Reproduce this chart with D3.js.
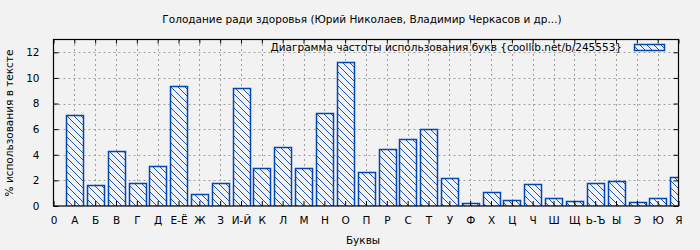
<!DOCTYPE html>
<html>
<head>
<meta charset="utf-8">
<script src="https://cdn.jsdelivr.net/npm/d3@7"></script>
<style>
  body { margin: 0; background: #f2f2f2; }
  text { font-family: "DejaVu Sans", sans-serif; font-size: 10.5px; fill: #000; }
</style>
</head>
<body>
<div id="chart"></div>
<script>
// Letter frequency data (percent of text)
const letters = ["0", "А", "Б", "В", "Г", "Д", "Е-Ё", "Ж", "З", "И-Й", "К", "Л", "М", "Н", "О", "П",
  "Р", "С", "Т", "У", "Ф", "Х", "Ц", "Ч", "Ш", "Щ", "Ь-Ъ", "Ы", "Э", "Ю", "Я"]
const percents = [7.08, 1.62, 4.27, 1.77, 3.1, 9.35, 0.91, 1.77, 9.2, 2.94, 4.58, 2.94, 7.24, 11.23, 2.63,
  4.43, 5.21, 5.99, 2.16, 0.21, 1.07, 0.45, 1.7, 0.6, 0.37, 1.77, 1.93, 0.29, 0.6, 2.24]
const yTicks = [0, 2, 4, 6, 8, 10, 12]

const title = "Голодание ради здоровья (Юрий Николаев, Владимир Черкасов и др...)"
const legendLabel = "Диаграмма частоты использования букв {coollib.net/b/245553}"

const width = 700
const height = 250
const margin = { top: 39.5, right: 21.5, bottom: 44, left: 53.5 }
const blue = "#0046b4"

const svg = d3.select("#chart")
  .append("svg")
  .attr("width", width)
  .attr("height", height)

svg.append("rect")
  .attr("width", width)
  .attr("height", height)
  .attr("fill", "#f2f2f2")

// Hatch pattern for the bars
const defs = svg.append("defs")
const pattern = defs.append("pattern")
  .attr("id", "hatch")
  .attr("patternUnits", "userSpaceOnUse")
  .attr("width", 7)
  .attr("height", 7)
pattern.append("rect")
  .attr("width", 7).attr("height", 7)
  .attr("fill", "#f2f2f2")
pattern.append("path")
  .attr("d", "M0,0 L7,7 M-3.5,3.5 L3.5,10.5 M3.5,-3.5 L10.5,3.5")
  .attr("stroke", blue)
  .attr("stroke-width", 0.9)

defs.append("clipPath")
  .attr("id", "plot-clip")
  .append("rect")
  .attr("x", margin.left)
  .attr("y", margin.top)
  .attr("width", width - margin.left - margin.right)
  .attr("height", height - margin.top - margin.bottom)

const x = d3.scaleLinear()
  .domain([0, letters.length - 1])
  .range([margin.left, width - margin.right])

const y = d3.scaleLinear()
  .domain([0, 13])
  .range([height - margin.bottom, margin.top])

const step = x(1) - x(0)
const barWidth = step * 0.8

// Grid lines
const grid = svg.append("g")
  .attr("stroke", "#a0a0a0")
  .attr("stroke-dasharray", "2,3")
  .attr("stroke-width", 1)

grid.selectAll(".vgrid")
  .data(letters.slice(1, -1))
  .enter()
  .append("line")
  .attr("x1", (d, i) => Math.round(x(i + 1)) + 0.5)
  .attr("x2", (d, i) => Math.round(x(i + 1)) + 0.5)
  .attr("y1", y(0))
  .attr("y2", margin.top)

grid.selectAll(".hgrid")
  .data(yTicks.slice(1))
  .enter()
  .append("line")
  .attr("x1", margin.left)
  .attr("x2", width - margin.right)
  .attr("y1", d => Math.round(y(d)) + 0.5)
  .attr("y2", d => Math.round(y(d)) + 0.5)

// Bars
svg.append("g")
  .attr("clip-path", "url(#plot-clip)")
  .selectAll("rect")
  .data(percents)
  .enter()
  .append("rect")
  .attr("x", (d, i) => Math.round(x(i + 1) - barWidth / 2) + 0.5)
  .attr("y", d => Math.round(y(d)) + 0.5)
  .attr("width", Math.round(barWidth))
  .attr("height", d => Math.round(y(0)) - Math.round(y(d)))
  .attr("fill", "url(#hatch)")
  .attr("stroke", blue)
  .attr("stroke-width", 1.5)

// Border
svg.append("rect")
  .attr("x", margin.left)
  .attr("y", margin.top)
  .attr("width", width - margin.left - margin.right)
  .attr("height", height - margin.top - margin.bottom)
  .attr("fill", "none")
  .attr("stroke", "#000")
  .attr("stroke-width", 1.2)

// Axes
const xAxis = svg.append("g")
  .attr("transform", `translate(0,${y(0)})`)
  .call(d3.axisBottom(x)
    .tickValues(d3.range(letters.length))
    .tickFormat(i => letters[i])
    .tickSizeInner(-5)
    .tickSizeOuter(0)
    .tickPadding(11))
xAxis.select(".domain").remove()

svg.append("g")
  .attr("transform", `translate(0,${margin.top})`)
  .call(d3.axisTop(x)
    .tickValues(d3.range(letters.length))
    .tickFormat("")
    .tickSizeInner(-4)
    .tickSizeOuter(0))
  .select(".domain").remove()

const yAxis = svg.append("g")
  .attr("transform", `translate(${margin.left},0)`)
  .call(d3.axisLeft(y)
    .tickValues(yTicks)
    .tickSizeInner(-5)
    .tickSizeOuter(0)
    .tickPadding(14))
yAxis.select(".domain").remove()

svg.append("g")
  .attr("transform", `translate(${width - margin.right},0)`)
  .call(d3.axisRight(y)
    .tickValues(yTicks)
    .tickFormat("")
    .tickSizeInner(-5)
    .tickSizeOuter(0))
  .select(".domain").remove()

svg.selectAll(".tick text")
  .style("font-family", "'DejaVu Sans', sans-serif")
  .style("font-size", "10.5px")
  .attr("fill", "#000")

// Titles
svg.append("text")
  .attr("x", 362)
  .attr("y", 23)
  .attr("text-anchor", "middle")
  .text(title)

svg.append("text")
  .attr("x", 363)
  .attr("y", 244)
  .attr("text-anchor", "middle")
  .text("Буквы")

svg.append("text")
  .attr("transform", `translate(13,123) rotate(-90)`)
  .attr("text-anchor", "middle")
  .text("% использования в тексте")

// Legend
svg.append("text")
  .attr("x", 622)
  .attr("y", 51)
  .attr("text-anchor", "end")
  .text(legendLabel)

svg.append("rect")
  .attr("x", 634.5)
  .attr("y", 44.5)
  .attr("width", 30)
  .attr("height", 6)
  .attr("fill", "url(#hatch)")
  .attr("stroke", blue)
  .attr("stroke-width", 1.5)
</script>
</body>
</html>
